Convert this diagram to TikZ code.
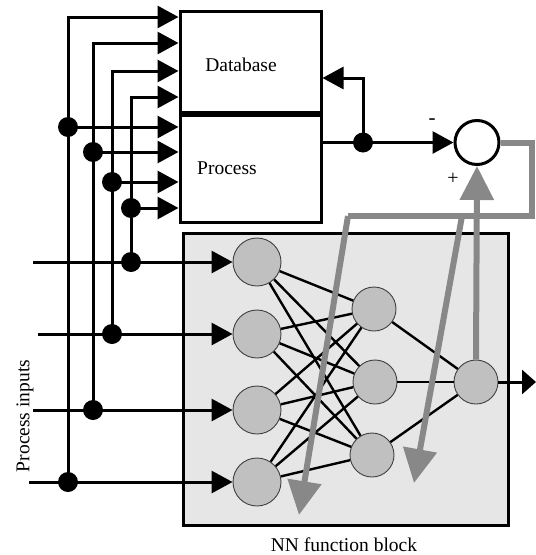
\documentclass[tikz,border=0pt]{standalone}
\usepackage{fontspec}
\setmainfont{Liberation Serif}
\usetikzlibrary{arrows.meta}
\definecolor{nnbg}{HTML}{E6E6E6}
\definecolor{neuron}{HTML}{C0C0C0}
\definecolor{fbgray}{HTML}{888888}
\tikzset{
  blk/.style={draw=black, line width=3pt, fill=white, inner sep=0pt},
  neur/.style={circle, draw=black!75, line width=0.9pt, fill=neuron, inner sep=0pt},
  dotn/.style={circle, fill=black, minimum size=20pt, inner sep=0pt},
  wire/.style={line width=3pt, black},
  arr/.style={wire, -{Triangle[length=21pt,width=22pt]}},
  syn/.style={line width=2.4pt, black},
  gline/.style={line width=6pt, fbgray},
  garr/.style={gline, -{Triangle[length=34pt,width=33pt]}},
  lbl/.style={font=\fontsize{19.5}{22}\selectfont, inner sep=0pt},
}
\begin{document}
\begin{tikzpicture}[x=1pt,y=-1pt]
\useasboundingbox (0,0) rectangle (536,555);
% NN block
\node[draw=black, line width=3pt, fill=nnbg, minimum width=325pt, minimum height=292pt, inner sep=0pt] (nn) at (345.5,379) {};
% boxes
\node[blk, minimum width=141pt, minimum height=101pt] (db) at (250.5,61.5) {};
\node[blk, minimum width=141pt, minimum height=107pt] (proc) at (250.5,168.5) {};
\node[lbl] (dbt) at (241,65) {Database};
\node[lbl] (proct) at (227,168) {Process};
\node[lbl] (nnt) at (344,545) {NN function block};
\node[lbl, rotate=90] (pin) at (25,416) {Process inputs};
% neurons
\node[neur, minimum size=48pt] (i1) at (257,262) {};
\node[neur, minimum size=48pt] (i2) at (257,334) {};
\node[neur, minimum size=48pt] (i3) at (257,410) {};
\node[neur, minimum size=48pt] (i4) at (257,482) {};
\node[neur, minimum size=44pt] (h1) at (374,309) {};
\node[neur, minimum size=44pt] (h2) at (375,382) {};
\node[neur, minimum size=44pt] (h3) at (372,455) {};
\node[neur, minimum size=44pt] (o) at (476,382) {};
% summation
\node[circle, draw=black, line width=3pt, fill=white, minimum size=44pt, inner sep=0pt] (s) at (477,142.5) {};
\node[font=\fontsize{21}{22}\selectfont, inner sep=0pt] (minus) at (432,122) {-};
\node[font=\fontsize{20}{22}\selectfont, inner sep=0pt] (plus) at (453,179) {+};
% synapses
\foreach \a in {i1,i2,i3,i4}{\foreach \b in {h1,h2,h3}{\draw[syn] (\a) -- (\b);}}
\foreach \b in {h1,h2,h3}{\draw[syn] (\b) -- (o);}
% input coordinates
\coordinate (in1) at (33,262);
\coordinate (in2) at (38,334);
\coordinate (in3) at (33,410);
\coordinate (in4) at (29,482);
\foreach \k in {1,2,3,4}{\draw[arr] (in\k) -- (i\k);}
% bus dots
\node[dotn] (q1) at (68,482) {};
\node[dotn] (q2) at (93,410) {};
\node[dotn] (q3) at (112,334) {};
\node[dotn] (q4) at (131,262) {};
\node[dotn] (p1) at (68,127) {};
\node[dotn] (p2) at (93,152) {};
\node[dotn] (p3) at (112,182) {};
\node[dotn] (p4) at (131,208) {};
\coordinate (t1) at (68,17);
\coordinate (t2) at (93,43);
\coordinate (t3) at (112,71);
\coordinate (t4) at (131,97);
\foreach \k in {1,2,3,4}{
  \draw[arr] (q\k.center) -- (t\k) -- (t\k -| db.west);
  \draw[arr] (p\k.center) -- (p\k -| proc.west);
}
% feedback from process
\node[dotn] (fb) at (363,142.5) {};
\coordinate (fbt) at (363,78);
\draw[wire] (fb -| proc.east) -- (fb.center);
\draw[arr] (fb.center) -- (s.west);
\draw[arr] (fb.center) -- (fbt) -- (fbt -| db.east);
% output
\coordinate (out) at (536,382);
\draw[wire, -{Triangle[length=14pt,width=24pt]}] (o.east) -- (out);
% gray error paths
\coordinate (g1) at (532,142.5);
\coordinate (g2) at (532,216);
\coordinate (g3) at (348,216);
\coordinate (g4) at (299,515);
\coordinate (g5) at (462,216);
\coordinate (g6) at (414,483);
\draw[gline, line join=miter] (s.east) -- (g1) -- (g2) -- (g3);
\draw[garr] (g3) -- (g4);
\draw[garr] (g5) -- (g6);
\draw[garr] (o.north) -- (s.south);
\end{tikzpicture}
\end{document}
